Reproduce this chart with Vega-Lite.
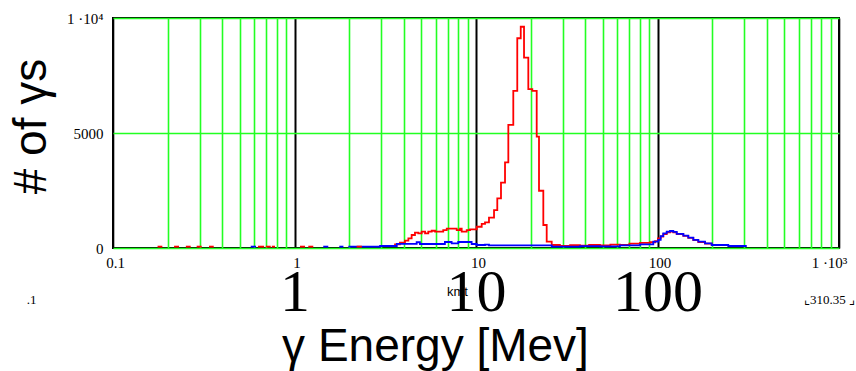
{
  "$schema": "https://vega.github.io/schema/vega-lite/v6.json",
  "width": 726,
  "height": 230,
  "autosize": {"type": "none"},
  "padding": {"left": 113, "top": 18, "right": 17, "bottom": 123},
  "background": "white",
  "config": {
    "view": {"stroke": "#000000", "strokeWidth": 2},
    "axis": {"labelColor": "#000000", "titleColor": "#000000", "titleFontWeight": "normal", "gridColor": "#00ff00", "gridOpacity": 1}
  },
  "datasets": {
    "red": [
      {"E": 2.96, "n": 80}, {"E": 3.58, "n": 160}, {"E": 3.81, "n": 230}, {"E": 4.06, "n": 317},
      {"E": 4.24, "n": 420}, {"E": 4.42, "n": 565}, {"E": 4.61, "n": 665}, {"E": 4.81, "n": 640},
      {"E": 5.02, "n": 710}, {"E": 5.24, "n": 640}, {"E": 5.46, "n": 710}, {"E": 5.7, "n": 750},
      {"E": 5.95, "n": 710}, {"E": 6.6, "n": 780}, {"E": 6.9, "n": 840}, {"E": 7.83, "n": 780},
      {"E": 8.16, "n": 840}, {"E": 8.34, "n": 710}, {"E": 8.89, "n": 780}, {"E": 9.27, "n": 810},
      {"E": 10.09, "n": 925}, {"E": 10.75, "n": 1045}, {"E": 11.21, "n": 1115}, {"E": 11.79, "n": 1320},
      {"E": 12.57, "n": 1650}, {"E": 13.1, "n": 2160}, {"E": 13.73, "n": 2840}, {"E": 14.45, "n": 3725},
      {"E": 15.07, "n": 5350}, {"E": 16.05, "n": 6830}, {"E": 16.88, "n": 9120}, {"E": 17.64, "n": 9620},
      {"E": 18.39, "n": 8275}, {"E": 19.42, "n": 6910}, {"E": 20.43, "n": 6830}, {"E": 21.6, "n": 4840},
      {"E": 22.24, "n": 2490}, {"E": 23.49, "n": 1000}, {"E": 24.52, "n": 275}, {"E": 26.13, "n": 130},
      {"E": 29.0, "n": 90}, {"E": 33.0, "n": 120}, {"E": 37.4, "n": 100}, {"E": 42.0, "n": 130},
      {"E": 48.2, "n": 110}, {"E": 55.0, "n": 150}, {"E": 62.1, "n": 130}, {"E": 70.0, "n": 190},
      {"E": 80.1, "n": 220}, {"E": 91.0, "n": 250}, {"E": 97.0, "n": 300}, {"E": 100.5, "n": 420},
      {"E": 104.1, "n": 500}, {"E": 107.6, "n": 600}, {"E": 112.4, "n": 680}, {"E": 117.2, "n": 710},
      {"E": 122.2, "n": 680}, {"E": 127.6, "n": 600}, {"E": 138.8, "n": 530}, {"E": 147.8, "n": 440},
      {"E": 157.5, "n": 340}, {"E": 167.8, "n": 260}, {"E": 182.7, "n": 190}, {"E": 198.9, "n": 130},
      {"E": 245.5, "n": 130}
    ],
    "blue": [
      {"E": 1.98, "n": 60}, {"E": 2.96, "n": 87}, {"E": 3.66, "n": 180}, {"E": 4.71, "n": 250},
      {"E": 4.91, "n": 175}, {"E": 6.74, "n": 260}, {"E": 7.34, "n": 205}, {"E": 7.98, "n": 260},
      {"E": 9.46, "n": 175}, {"E": 10.09, "n": 130}, {"E": 11.21, "n": 150}, {"E": 11.79, "n": 115},
      {"E": 13.27, "n": 115}, {"E": 24.5, "n": 110}, {"E": 26.13, "n": 60}, {"E": 37.4, "n": 80},
      {"E": 48.2, "n": 70}, {"E": 62.1, "n": 110}, {"E": 80.1, "n": 160}, {"E": 94.8, "n": 275},
      {"E": 101.0, "n": 350}, {"E": 104.1, "n": 520}, {"E": 107.6, "n": 640}, {"E": 112.4, "n": 710},
      {"E": 117.2, "n": 740}, {"E": 122.2, "n": 700}, {"E": 127.6, "n": 610}, {"E": 138.8, "n": 535},
      {"E": 147.8, "n": 450}, {"E": 157.5, "n": 350}, {"E": 167.8, "n": 275}, {"E": 182.7, "n": 205},
      {"E": 198.9, "n": 130}, {"E": 245.5, "n": 87}, {"E": 310.35, "n": 87}
    ],
    "dash": [
      {"s": "red", "g": "r1", "E": 0.176, "n": 60}, {"s": "red", "g": "r1", "E": 0.187, "n": 60},
      {"s": "red", "g": "r2", "E": 0.217, "n": 60}, {"s": "red", "g": "r2", "E": 0.231, "n": 60},
      {"s": "red", "g": "r3", "E": 0.252, "n": 60}, {"s": "red", "g": "r3", "E": 0.268, "n": 60},
      {"s": "red", "g": "r4", "E": 0.289, "n": 60}, {"s": "red", "g": "r4", "E": 0.308, "n": 60},
      {"s": "red", "g": "r5", "E": 0.338, "n": 60}, {"s": "red", "g": "r5", "E": 0.359, "n": 60},
      {"s": "blue", "g": "b1", "E": 0.574, "n": 60}, {"s": "blue", "g": "b1", "E": 0.614, "n": 60},
      {"s": "red", "g": "r6", "E": 0.629, "n": 60}, {"s": "red", "g": "r6", "E": 0.68, "n": 60},
      {"s": "red", "g": "r7", "E": 0.695, "n": 60}, {"s": "red", "g": "r7", "E": 0.74, "n": 60},
      {"s": "red", "g": "r8", "E": 0.75, "n": 60}, {"s": "red", "g": "r8", "E": 0.781, "n": 60},
      {"s": "red", "g": "r9", "E": 1.072, "n": 60}, {"s": "red", "g": "r9", "E": 1.143, "n": 60},
      {"s": "red", "g": "r10", "E": 1.191, "n": 60}, {"s": "red", "g": "r10", "E": 1.269, "n": 60},
      {"s": "blue", "g": "b2", "E": 1.44, "n": 60}, {"s": "blue", "g": "b2", "E": 1.535, "n": 60},
      {"s": "blue", "g": "b3", "E": 1.765, "n": 60}, {"s": "blue", "g": "b3", "E": 1.86, "n": 60},
      {"s": "red", "g": "r11", "E": 2.2, "n": 60}, {"s": "red", "g": "r11", "E": 2.35, "n": 60}
    ]
  },
  "layer": [
    {
      "data": {"name": "red"},
      "mark": {"type": "line", "interpolate": "step-after", "color": "#ff0000", "strokeWidth": 1.8},
      "encoding": {
        "x": {
          "field": "E", "type": "quantitative",
          "scale": {"type": "log", "domain": [0.1, 1000], "nice": false},
          "axis": {
            "values": [0.1, 0.2, 0.3, 0.4, 0.5, 0.6, 0.7, 0.8, 0.9, 1, 2, 3, 4, 5, 6, 7, 8, 9, 10, 20, 30, 40, 50, 60, 70, 80, 90, 100, 200, 300, 400, 500, 600, 700, 800, 900, 1000],
            "labelExpr": "datum.value == 0.1 ? '0.1' : datum.value == 1 ? '1' : datum.value == 10 ? '10' : datum.value == 100 ? '100' : datum.value == 1000 ? '1 ·10³' : ''",
            "grid": true,
            "gridColor": {"condition": {"test": "datum.value == 0.1 || datum.value == 1 || datum.value == 10 || datum.value == 100 || datum.value == 1000", "value": "#000000"}, "value": "#22ff22"},
            "gridWidth": {"condition": {"test": "datum.value == 1 || datum.value == 10 || datum.value == 100", "value": 2}, "value": 1.6},
            "ticks": false, "domain": false,
            "labelFont": "Liberation Serif", "labelFontSize": 15, "labelPadding": 7,
            "labelOffset": {"condition": {"test": "datum.value == 1000", "value": -10}, "value": 2},
            "labelOverlap": false, "labelFlush": false, "labelBound": false,
            "title": "γ Energy [Mev]", "titleFont": "Liberation Sans", "titleFontSize": 46,
            "titleX": 322, "titleY": 112, "titleBaseline": "alphabetic", "titleAlign": "center"
          }
        },
        "y": {
          "field": "n", "type": "quantitative",
          "scale": {"domain": [0, 10000], "nice": false},
          "axis": {
            "values": [0, 5000, 10000],
            "labelExpr": "datum.value == 10000 ? '1 ·10⁴' : datum.value == 5000 ? '5000' : '0'",
            "grid": true, "gridColor": "#22ff22", "gridWidth": 1.6,
            "ticks": false, "domain": false,
            "labelFont": "Liberation Serif", "labelFontSize": 15, "labelPadding": 10,
            "title": "# of γs", "titleFont": "Liberation Sans", "titleFontSize": 46,
            "titleX": -68, "titleY": 108, "titleAngle": -90, "titleBaseline": "alphabetic", "titleAlign": "center"
          }
        }
      }
    },
    {
      "data": {"name": "blue"},
      "mark": {"type": "line", "interpolate": "step-after", "color": "#0000ff", "strokeWidth": 1.8},
      "encoding": {
        "x": {
          "field": "E", "type": "quantitative",
          "scale": {"type": "log", "domain": [0.1, 1000], "nice": false},
          "axis": {
            "orient": "bottom",
            "values": [1, 10, 100],
            "labelExpr": "datum.value == 1 ? '1' : datum.value == 10 ? '10' : '100'",
            "grid": false, "ticks": false, "domain": false,
            "labelFont": "Liberation Serif", "labelFontSize": 60, "labelPadding": 62,
            "labelBaseline": "alphabetic", "labelOverlap": false, "labelFlush": false,
            "title": "kmt", "titleFont": "Liberation Sans", "titleFontSize": 13,
            "titleX": 344, "titleY": 47, "titleBaseline": "alphabetic", "titleAlign": "center"
          }
        },
        "y": {
          "field": "n", "type": "quantitative",
          "scale": {"domain": [0, 10000], "nice": false},
          "axis": null
        }
      }
    },
    {
      "data": {"name": "dash"},
      "mark": {"type": "line", "interpolate": "linear", "strokeWidth": 1.8},
      "encoding": {
        "x": {
          "field": "E", "type": "quantitative",
          "scale": {"type": "log", "domain": [0.1, 1000], "nice": false},
          "axis": {
            "orient": "bottom",
            "labels": false, "grid": false, "ticks": false, "domain": false,
            "title": ".1", "titleFont": "Liberation Serif", "titleFontSize": 13,
            "titleX": -82, "titleY": 55, "titleBaseline": "alphabetic", "titleAlign": "center"
          }
        },
        "y": {
          "field": "n", "type": "quantitative",
          "scale": {"domain": [0, 10000], "nice": false},
          "axis": {
            "orient": "right",
            "labels": false, "grid": false, "ticks": false, "domain": false,
            "title": "⌞310.35 ⌟", "titleFont": "Liberation Serif", "titleFontSize": 13,
            "titleAngle": 0, "titleX": -10, "titleY": 285, "titleBaseline": "alphabetic", "titleAlign": "center"
          }
        },
        "color": {"field": "s", "type": "nominal", "scale": {"domain": ["red", "blue"], "range": ["#ff0000", "#0000ff"]}, "legend": null},
        "detail": {"field": "g"}
      }
    }
  ],
  "resolve": {"axis": {"x": "independent", "y": "independent"}}
}
